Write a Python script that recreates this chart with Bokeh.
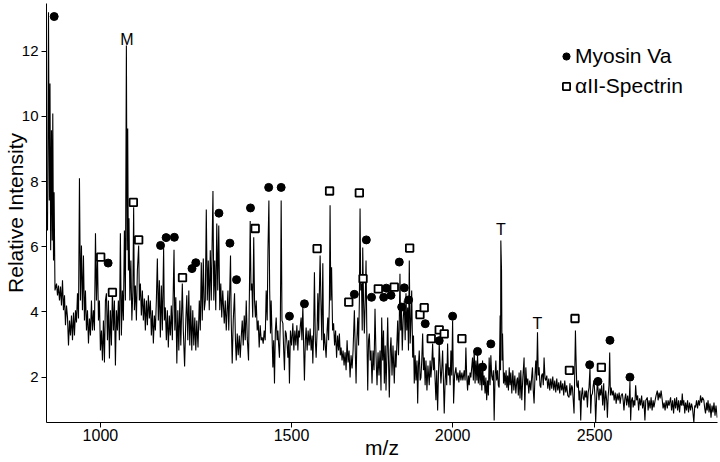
import math
from bokeh.plotting import figure
from bokeh.models import (ColumnDataSource, Range1d, FixedTicker, CustomJSTickFormatter,
                          CustomJSTransform, Legend, LegendItem)
from bokeh.transform import transform
from bokeh.core.properties import value
from bokeh.embed import file_html
from bokeh.resources import INLINE

FONT = "Liberation Sans"

# ---------------- data ----------------
x_tick_values = [1000, 1500, 2000, 2500]
y_tick_values = [2, 4, 6, 8, 10, 12]
mz_min, mz_max = 877.2, 2978.0
int_min, int_max = 0.61, 13.46

spec_mz = [
    879.4, 881.6, 883.4, 884.9, 886.4, 888.2, 889.8, 891.1, 892.7, 894.0,
    896.0, 899.4, 901.6, 903.8, 906.0, 908.3, 910.5, 912.8, 915.0, 917.3,
    919.5, 921.8, 924.1, 926.3, 928.6, 930.8, 933.1, 935.4, 937.7, 939.9,
    942.2, 944.5, 946.8, 949.1, 951.3, 953.6, 955.9, 958.2, 960.5, 962.8,
    965.1, 967.5, 969.8, 972.1, 974.4, 976.7, 979.0, 981.3, 983.7, 986.0,
    988.4, 990.7, 993.0, 995.4, 997.7, 1000.0, 1002.4, 1004.8, 1007.1, 1009.5,
    1011.8, 1014.2, 1016.6, 1018.9, 1021.3, 1023.6, 1026.0, 1028.4, 1030.8, 1033.2,
    1035.6, 1037.9, 1040.3, 1042.7, 1045.1, 1047.5, 1049.9, 1052.3, 1054.7, 1057.2,
    1059.6, 1062.0, 1063.7, 1065.2, 1066.9, 1068.3, 1070.5, 1072.9, 1075.3, 1077.8,
    1079.7, 1081.5, 1083.9, 1086.4, 1088.8, 1092.0, 1093.7, 1096.2, 1098.6, 1101.1,
    1103.6, 1106.0, 1108.5, 1111.0, 1113.5, 1115.9, 1118.4, 1120.9, 1123.4,
    1125.9, 1128.4, 1130.9, 1133.4, 1135.9, 1138.4, 1140.9, 1143.4, 1145.9, 1148.4,
    1150.9, 1154.2, 1156.0, 1158.5, 1161.1, 1163.6, 1166.1, 1168.6, 1171.2, 1173.7,
    1176.3, 1180.6, 1182.7, 1185.2, 1187.8, 1190.3, 1192.9, 1195.5, 1198.0, 1201.9,
    1204.5, 1207.8, 1210.9, 1213.5, 1216.1, 1218.7, 1221.2, 1223.8, 1226.4, 1229.0,
    1231.7, 1234.3, 1236.9, 1239.5, 1242.7, 1246.1, 1248.7, 1251.3, 1253.9, 1256.6,
    1259.2, 1261.9, 1264.5, 1267.1, 1269.8, 1272.4, 1275.1, 1277.7, 1282.2, 1284.4,
    1287.0, 1289.7, 1292.4, 1295.0, 1297.7, 1300.4, 1303.1, 1305.7, 1308.4, 1312.5,
    1315.2, 1317.9, 1322.4, 1324.6, 1326.7, 1329.4, 1331.3, 1334.0, 1336.8, 1340.3,
    1342.8, 1345.0, 1347.7, 1350.4, 1353.2, 1355.9, 1358.6, 1361.4, 1364.1, 1366.9,
    1369.6, 1372.4, 1375.1, 1378.7, 1381.2, 1383.3, 1385.6, 1388.0, 1390.3, 1393.1,
    1395.3, 1397.8, 1400.0, 1402.8, 1405.5, 1408.3, 1411.1, 1413.9,
    1416.7, 1419.5, 1422.3, 1425.1, 1427.9, 1430.7, 1432.9, 1435.5, 1437.7, 1440.0,
    1441.9, 1444.7, 1446.7, 1449.0, 1451.3, 1453.8, 1456.1, 1458.9, 1460.9, 1463.2,
    1465.4, 1468.0, 1470.3, 1472.6, 1475.2, 1477.5, 1479.7, 1482.3, 1484.6, 1487.5,
    1489.5, 1491.8, 1494.0, 1496.9, 1500.3, 1503.8, 1506.7, 1509.6, 1512.5, 1515.4,
    1518.3, 1520.6, 1522.9, 1525.5, 1527.8, 1530.1, 1532.8, 1535.1, 1537.4, 1540.1,
    1542.4, 1545.3, 1548.2, 1551.1, 1554.1, 1557.0, 1559.9, 1562.0, 1564.4, 1566.7,
    1569.3, 1571.7, 1574.6, 1576.7, 1579.1, 1581.4, 1583.5, 1585.8, 1588.5, 1591.5,
    1593.8, 1596.2, 1598.9, 1601.3, 1604.2, 1606.3, 1608.7, 1611.1, 1613.1, 1615.2,
    1617.6, 1620.6, 1623.6, 1626.6, 1629.6, 1632.6, 1635.6, 1638.6, 1641.0, 1643.7,
    1646.1, 1649.1, 1652.2, 1655.2, 1658.2, 1661.3, 1664.3, 1667.3, 1670.3, 1673.4,
    1676.4, 1679.5, 1682.5, 1686.5, 1689.2, 1691.7, 1694.1, 1696.8, 1699.3, 1701.8,
    1703.9, 1706.0, 1708.4, 1710.6, 1712.1, 1714.6, 1717.1, 1719.8, 1722.3, 1724.7,
    1727.5, 1730.0, 1732.5, 1735.2, 1737.7,
    1740.8, 1743.9, 1747.0, 1750.1, 1753.2, 1756.4, 1759.5, 1762.6, 1765.7, 1768.8,
    1771.0, 1774.1, 1776.7, 1779.2, 1782.0, 1784.5, 1787.6, 1789.8, 1792.4, 1794.9,
    1797.7, 1800.2, 1803.4, 1806.5, 1810.6, 1813.5, 1816.0, 1819.2, 1821.4, 1823.9,
    1826.1, 1828.6, 1830.9, 1833.4, 1836.0, 1838.8, 1842.4, 1845.2, 1847.8, 1850.4,
    1853.2, 1855.8, 1858.4, 1861.2, 1863.8, 1866.1, 1869.3, 1871.9, 1874.4, 1877.3,
    1879.9, 1883.1, 1885.4, 1887.9, 1890.5, 1893.4, 1896.0, 1898.6, 1901.5, 1904.1,
    1906.7, 1909.6, 1912.2, 1915.4, 1918.7, 1922.9, 1925.8, 1928.4, 1931.0, 1934.0,
    1936.6, 1939.2, 1942.2, 1944.8, 1947.4, 1950.4, 1953.0, 1955.6, 1958.6, 1961.2,
    1963.8, 1966.8, 1969.5, 1972.1, 1975.1, 1977.7, 1980.3, 1983.3, 1986.0, 1988.6,
    1991.6, 1994.2, 1996.9, 1999.9, 2003.2, 2006.5, 2010.9, 2014.2, 2017.5, 2020.8,
    2024.2, 2027.5, 2030.9, 2034.2, 2038.6, 2041.6, 2044.3, 2047.0, 2050.0, 2052.7,
    2055.4, 2058.4, 2061.1, 2064.5, 2066.8, 2069.5, 2072.3, 2075.3, 2078.0, 2081.4,
    2083.7, 2086.4, 2089.2, 2092.2, 2094.9,
    2098.3, 2100.7, 2103.5, 2106.2, 2109.3, 2112.0, 2114.8, 2117.8, 2120.6, 2123.3,
    2126.4, 2129.1, 2131.9, 2135.0, 2137.7, 2140.5, 2143.6, 2146.3, 2149.1, 2152.2,
    2154.9, 2157.7, 2161.1, 2162.5, 2163.5, 2165.9, 2167.7, 2169.4, 2172.9, 2175.6,
    2178.5, 2181.6, 2184.3, 2187.1, 2189.9, 2192.6, 2195.4, 2198.2, 2201.7, 2205.2,
    2208.7, 2212.2, 2215.7, 2219.2, 2221.6, 2224.4, 2227.2, 2230.4, 2233.1, 2236.6,
    2240.2, 2244.7, 2247.2, 2250.8, 2254.3, 2257.8, 2261.3, 2264.9, 2268.4, 2271.9,
    2274.4, 2277.2, 2280.1, 2283.3, 2286.1, 2289.0, 2292.2, 2295.0, 2297.9, 2301.1,
    2303.9, 2306.8, 2310.0, 2312.9, 2315.7, 2319.0, 2321.8, 2325.4, 2329.0, 2332.5,
    2336.1, 2339.7, 2343.3, 2346.9, 2350.5, 2354.1, 2357.7, 2361.3, 2364.9, 2368.5,
    2372.1, 2375.7, 2379.3, 2383.0, 2386.6, 2390.3, 2393.9, 2397.5, 2401.2, 2405.9,
    2409.2, 2412.1, 2415.8, 2418.3, 2421.3, 2424.2, 2427.5, 2429.3, 2431.1, 2434.1,
    2436.6, 2439.6, 2442.5, 2445.8, 2448.7, 2451.7, 2455.0, 2457.9, 2460.9, 2464.2,
    2467.1, 2470.1, 2473.4, 2476.3, 2479.3, 2483.0, 2485.6, 2488.6, 2491.9, 2494.9,
    2497.8, 2501.2, 2504.1, 2507.1, 2510.4, 2513.4, 2516.4, 2519.7, 2522.7,
    2526.5, 2530.2, 2534.0, 2537.0, 2541.5, 2545.2, 2547.9, 2550.9, 2553.9, 2556.5,
    2559.1, 2562.1, 2565.9, 2569.6, 2573.4, 2577.2, 2580.9, 2584.7, 2588.5, 2592.2,
    2596.0, 2599.8, 2604.4, 2607.4, 2610.4, 2613.9, 2617.0, 2620.8, 2624.6, 2629.5,
    2633.2, 2635.9, 2639.0, 2642.4, 2645.5, 2648.5, 2652.0, 2655.0, 2658.9, 2662.7,
    2666.5, 2670.3, 2674.1, 2678.0, 2681.8, 2686.8, 2690.7, 2694.1, 2699.9, 2703.0,
    2706.9, 2710.8, 2714.6, 2718.5, 2722.4, 2725.5, 2730.2, 2734.0, 2738.7, 2741.8,
    2745.7, 2749.6, 2753.5, 2758.1, 2761.3, 2765.2, 2769.1, 2773.0, 2777.7, 2780.8,
    2784.7, 2790.6, 2794.5, 2798.5, 2802.4, 2806.4, 2810.3, 2814.2, 2818.2, 2822.1,
    2826.0, 2829.9, 2833.9, 2836.7, 2839.8, 2843.0, 2846.6, 2849.8, 2853.7, 2857.7,
    2861.6, 2865.6, 2869.6, 2873.6, 2877.6, 2882.8, 2886.4, 2889.5, 2893.5, 2897.5,
    2901.5, 2905.5, 2909.5, 2913.5, 2917.5, 2922.8, 2926.4, 2929.6, 2933.6, 2936.4,
    2939.7, 2943.7, 2947.7, 2951.7, 2955.8, 2959.8, 2963.8, 2967.9, 2971.9, 2976.8,
]

spec_int = [
    6.50, 13.19, 7.42, 11.01, 5.89, 9.57, 6.19, 10.09, 5.58, 7.67,
    4.66, 4.87, 4.51, 4.81, 4.35, 4.78, 4.20, 4.97, 4.05, 4.51,
    3.59, 4.20, 3.83, 2.97, 3.74, 3.28, 3.89, 3.13, 3.98, 3.28,
    4.05, 3.68, 4.57, 3.80, 8.10, 4.35, 6.04, 4.05, 5.73, 3.74,
    4.66, 3.43, 4.05, 3.03, 3.80, 3.28, 4.35, 3.43, 4.05, 3.43,
    6.41, 4.35, 5.79, 3.74, 4.35, 2.82, 3.43, 2.51, 3.74, 2.45,
    4.35, 4.57, 3.13, 4.35, 2.57, 4.05, 2.97, 4.66, 3.43, 4.35,
    2.36, 4.05, 3.43, 4.35, 3.13, 6.41, 3.28, 4.66, 3.74, 6.50,
    4.35, 12.17, 5.89, 9.63, 5.27, 6.87, 4.35, 5.58, 3.74, 4.66,
    7.21, 4.05, 4.81, 3.74, 5.27, 6.04, 4.35, 4.87, 3.89, 4.66,
    3.74, 4.41, 3.43, 4.35, 3.59, 4.51, 3.80, 4.35, 3.28,
    4.05, 3.03, 3.89, 3.43, 4.35, 5.64, 3.74, 4.97, 3.22, 4.81,
    3.43, 5.95, 3.74, 4.14, 3.13, 4.05, 2.91, 3.89, 3.28, 4.20,
    3.13, 5.91, 3.43, 4.45, 2.42, 4.05, 2.82, 4.35, 2.97, 4.87,
    3.43, 2.33, 3.74, 4.51, 3.13, 4.66, 2.97, 4.20, 2.82, 4.05,
    2.97, 3.83, 2.82, 3.74, 2.91, 4.35, 3.43, 5.52, 3.74, 5.64,
    4.05, 4.35, 7.14, 4.35, 5.58, 4.05, 5.89, 4.35, 7.71, 4.35,
    5.58, 4.05, 6.71, 4.66, 6.65, 4.05, 4.87, 3.83, 4.66, 3.65,
    4.35, 3.43, 4.66, 3.43, 4.35, 5.73, 3.74, 2.42, 3.74, 4.57,
    3.13, 2.51, 3.34, 2.67, 3.28, 2.60, 3.22, 3.74, 2.97, 3.89,
    3.13, 4.35, 3.22, 2.51, 4.66, 6.79, 4.66, 4.87, 3.83, 6.29,
    4.35, 3.83, 4.35, 3.43, 3.74, 2.91, 3.59, 3.13,
    3.22, 3.03, 3.43, 3.13, 4.66, 3.74, 5.89, 7.42, 4.66, 3.34,
    4.35, 3.13, 2.30, 3.13, 1.81, 3.43, 3.83, 3.13, 3.43, 2.97,
    2.60, 3.74, 7.42, 3.74, 3.65, 2.82, 2.21, 3.43, 3.34, 2.97,
    2.60, 3.13, 1.81, 3.43, 2.97, 3.65, 2.82, 3.43, 2.97, 3.59,
    2.82, 3.43, 3.22, 3.59, 3.83, 3.13, 4.20, 2.97, 1.90, 3.13,
    3.52, 2.82, 3.43, 2.97, 3.49, 2.82, 3.28, 2.42, 3.43, 5.22,
    3.13, 2.60, 3.43, 4.57, 3.43, 4.66, 5.73, 4.35, 3.13, 5.49,
    2.82, 3.34, 2.97, 2.60, 3.43, 3.83, 3.13, 4.35, 7.27, 4.35,
    5.37, 3.43, 3.65, 2.97, 3.43, 2.60, 3.28, 2.82, 3.34, 2.67,
    2.91, 2.51, 2.82, 2.36, 2.76, 2.21, 3.13, 2.45, 2.82, 1.99,
    2.67, 2.27, 2.82, 4.05, 2.82, 1.81, 3.13, 3.83, 2.97, 4.35,
    7.17, 4.66, 4.87, 3.43, 5.98, 4.35, 3.34, 4.35, 5.58, 3.43,
    1.59, 3.13, 3.34, 2.51, 2.82,
    1.81, 2.82, 2.21, 4.10, 2.67, 1.75, 2.76, 2.05, 2.82, 1.59,
    3.83, 2.51, 3.43, 1.81, 2.97, 1.59, 2.82, 3.83, 2.51, 1.38,
    2.82, 3.22, 2.05, 2.97, 1.81, 2.82, 2.30, 3.13, 3.74, 2.67,
    3.43, 5.17, 3.43, 4.05, 2.82, 3.74, 4.35, 3.13, 4.57, 3.43,
    4.14, 2.82, 5.58, 3.03, 3.74, 4.66, 2.60, 3.28, 1.81, 2.67,
    1.90, 2.51, 1.19, 2.36, 2.82, 1.90, 1.99, 2.51, 3.34, 2.21,
    2.60, 1.75, 2.51, 1.59, 2.36, 1.75, 2.51, 1.99, 2.36, 3.03,
    2.21, 2.60, 1.90, 1.29, 2.21, 0.98, 2.05, 3.03, 2.36, 1.81,
    2.21, 2.82, 1.90, 0.89, 1.90, 2.42, 1.75, 3.03, 2.05, 2.30,
    1.75, 2.82, 2.05, 3.74, 1.19, 2.05, 2.30, 1.90, 2.14, 1.84,
    2.21, 1.90, 2.14, 1.90, 2.21, 1.90, 2.91, 2.05, 1.59, 2.05,
    1.75, 2.14, 1.99, 2.36, 2.60, 1.90, 2.82, 1.81, 2.51, 1.90,
    2.67, 1.81, 2.42, 1.75, 2.36,
    1.59, 2.51, 1.75, 2.05, 1.50, 1.99, 1.29, 1.90, 1.44, 2.60,
    1.75, 2.67, 2.05, 1.90, 2.21, 0.67, 2.05, 2.51, 1.90, 2.21,
    1.75, 1.68, 3.89, 2.21, 6.19, 5.27, 2.51, 3.34, 1.81, 2.14,
    1.75, 2.21, 1.68, 2.05, 1.59, 2.30, 1.75, 2.14, 1.50, 2.21,
    1.59, 2.05, 1.50, 1.90, 1.99, 1.44, 2.14, 1.35, 2.21, 1.29,
    1.96, 2.60, 0.98, 2.30, 1.75, 1.96, 1.50, 1.90, 1.59, 2.05,
    2.30, 1.59, 1.19, 2.05, 2.51, 1.90, 3.38, 2.05, 2.30, 1.75,
    1.68, 2.05, 2.11, 1.75, 2.60, 1.96, 1.90, 2.05, 1.65, 1.96,
    1.59, 1.96, 1.65, 2.02, 1.59, 1.90, 1.53, 1.96, 1.59, 1.84,
    1.50, 1.90, 1.59, 1.81, 1.44, 1.90, 1.53, 1.75, 1.44, 1.38,
    1.81, 1.44, 1.75, 1.68, 1.29, 0.89, 2.51, 3.43, 2.72, 1.75,
    1.68, 1.90, 1.29, 1.59, 0.67, 1.44, 1.68, 1.35, 1.29, 1.59,
    1.38, 1.59, 1.07, 1.53, 1.68, 2.30, 0.89, 1.44, 1.50, 1.75,
    1.90, 1.44, 0.61, 1.29, 1.90, 1.59, 1.29, 1.65, 1.44,
    1.75, 1.13, 1.81, 0.98, 1.59, 1.29, 0.76, 1.44, 1.75, 2.76,
    1.44, 1.68, 1.44, 1.59, 1.29, 1.53, 1.19, 1.50, 1.29, 1.53,
    1.19, 1.44, 1.50, 1.29, 0.98, 1.35, 1.50, 1.13, 1.44, 1.07,
    1.85, 0.67, 1.29, 1.38, 1.07, 1.29, 1.13, 1.75, 1.29, 1.44,
    0.98, 1.35, 1.13, 1.44, 1.04, 1.29, 0.67, 1.29, 1.38, 0.98,
    1.29, 1.04, 1.38, 0.98, 1.29, 1.07, 1.29, 1.44, 1.59, 1.29,
    1.53, 1.35, 1.59, 1.29, 1.04, 1.22, 0.98, 1.29, 1.04, 1.29,
    1.13, 1.38, 0.98, 1.29, 0.89, 1.35, 1.04, 1.38, 0.98, 1.29,
    0.92, 1.29, 1.13, 1.50, 1.13, 1.29, 0.89, 1.22, 0.98, 1.29,
    0.92, 1.22, 0.98, 1.19, 1.04, 0.61, 1.13, 1.07, 1.29, 1.04,
    1.29, 1.13, 1.44, 1.22, 1.38, 1.29, 1.04, 0.89, 1.22, 0.98,
    1.29, 0.92, 1.19, 0.76, 1.13, 0.92, 1.22, 0.82, 1.13, 0.76,
]

myosin_mz = [894.2, 1018.2, 1146.4, 1160.5, 1181.4, 1227.0, 1236.9, 1298.2, 1327.8,
             1345.7, 1384.1, 1434.9, 1470.3, 1494.0, 1537.4, 1686.4, 1723.2, 1739.3,
             1777.3, 1785.4, 1800.2, 1826.5, 1834.1, 1842.4, 1856.4, 1909.9, 1955.6,
             1999.9, 2083.7, 2100.7, 2129.1, 2481.8, 2512.6, 2557.5, 2633.2]
myosin_int = [13.06, 5.50, 6.04, 6.28, 6.29, 5.33, 5.51, 7.03, 6.11,
              4.99, 7.19, 7.82, 7.82, 3.87, 4.25, 4.54, 6.21, 4.45,
              4.45, 4.73, 4.51, 5.53, 4.15, 4.74, 4.37, 3.64, 3.12,
              3.87, 2.79, 2.31, 3.02, 2.38, 1.87, 3.13, 2.00]

spectrin_mz = [1000.7, 1028.4, 1079.0, 1092.0, 1202.4, 1397.2, 1574.6, 1611.6, 1669.4,
               1701.7, 1713.1, 1760.4, 1810.6, 1859.6, 1892.8, 1906.6, 1929.4, 1955.6,
               1972.1, 2030.9, 2407.3, 2427.7, 2525.3]
spectrin_int = [5.68, 4.60, 7.36, 6.21, 5.05, 6.56, 5.94, 7.71, 4.30,
                7.65, 5.02, 4.71, 4.76, 5.96, 3.92, 4.13, 3.18, 3.45,
                3.33, 3.18, 2.21, 3.80, 2.30]

peak_label_text = ["M", "T", "T"]
peak_label_mz = [1063.2, 2163.5, 2292.1]
peak_label_int = [12.37, 6.53, 3.65]

legend_labels = ["Myosin Va", "\u03b1II-Spectrin"]
x_title = "m/z"
y_title = "Relative Intensity"

# ---------------- figure ----------------
n = min(len(spec_mz), len(spec_int))

sqrt_tf = CustomJSTransform(
    func="return Math.sqrt(x);",
    v_func="const out = new Array(xs.length); for (let i = 0; i < xs.length; i++) { out[i] = Math.sqrt(xs[i]); } return out;",
)

p = figure(width=720, height=462, output_backend="svg", toolbar_location=None,
           x_range=Range1d(math.sqrt(mz_min), math.sqrt(mz_max)),
           y_range=Range1d(int_min, int_max),
           min_border_left=45, min_border_right=3, min_border_top=3, min_border_bottom=40)
p.outline_line_color = None
p.grid.visible = False
p.background_fill_color = "white"
p.border_fill_color = "white"

xa = p.xaxis[0]
xa.ticker = FixedTicker(ticks=[math.sqrt(v) for v in x_tick_values])
xa.formatter = CustomJSTickFormatter(code="return Math.round(tick * tick).toString();")
xa.major_tick_out = 5
xa.major_tick_in = 0
xa.minor_tick_out = 0
xa.minor_tick_in = 0
xa.major_label_standoff = 1
xa.major_label_text_font = FONT
xa.major_label_text_font_size = "16px"
xa.major_label_text_color = "black"
xa.axis_line_color = "black"
xa.major_tick_line_color = "black"
xa.axis_label = x_title
xa.axis_label_standoff = -8
xa.axis_label_text_font = FONT
xa.axis_label_text_font_size = "21px"
xa.axis_label_text_font_style = "normal"
xa.axis_label_text_color = "black"

ya = p.yaxis[0]
ya.ticker = FixedTicker(ticks=y_tick_values)
ya.major_tick_out = 5
ya.major_tick_in = 0
ya.minor_tick_out = 0
ya.minor_tick_in = 0
ya.major_label_standoff = 3
ya.major_label_text_font = FONT
ya.major_label_text_font_size = "15px"
ya.major_label_text_color = "black"
ya.axis_line_color = "black"
ya.major_tick_line_color = "black"
ya.axis_label = y_title
ya.axis_label_standoff = -8
ya.axis_label_text_font = FONT
ya.axis_label_text_font_size = "21px"
ya.axis_label_text_font_style = "normal"
ya.axis_label_text_color = "black"

spec_src = ColumnDataSource(dict(mz=spec_mz[:n], inten=spec_int[:n]))
p.line(x=transform("mz", sqrt_tf), y="inten", source=spec_src,
       line_color="black", line_width=1.1)

myo_src = ColumnDataSource(dict(mz=myosin_mz, inten=myosin_int))
r_myo = p.scatter(x=transform("mz", sqrt_tf), y="inten", source=myo_src,
                  marker="circle", size=8, fill_color="black", line_color="black")

spe_src = ColumnDataSource(dict(mz=spectrin_mz, inten=spectrin_int))
r_spe = p.scatter(x=transform("mz", sqrt_tf), y="inten", source=spe_src,
                  marker="square", size=7.5, fill_color="white", line_color="black",
                  line_width=1.8)

lab_src = ColumnDataSource(dict(mz=peak_label_mz, inten=peak_label_int, txt=peak_label_text))
p.text(x=transform("mz", sqrt_tf), y="inten", text="txt", source=lab_src,
       text_font=value(FONT), text_font_size=value("16px"), text_color="black",
       text_align="center", text_baseline="middle")

legend = Legend(items=[LegendItem(label=legend_labels[0], renderers=[r_myo]),
                       LegendItem(label=legend_labels[1], renderers=[r_spe])],
                location=(511, 324))
legend.border_line_color = None
legend.background_fill_alpha = 0
legend.padding = 0
legend.margin = 0
legend.spacing = 6
legend.glyph_width = 18
legend.glyph_height = 18
legend.label_standoff = 0
legend.label_text_font = FONT
legend.label_text_font_size = "21px"
legend.label_text_color = "black"
p.add_layout(legend)

open("out.html", "w").write(file_html(p, INLINE))
